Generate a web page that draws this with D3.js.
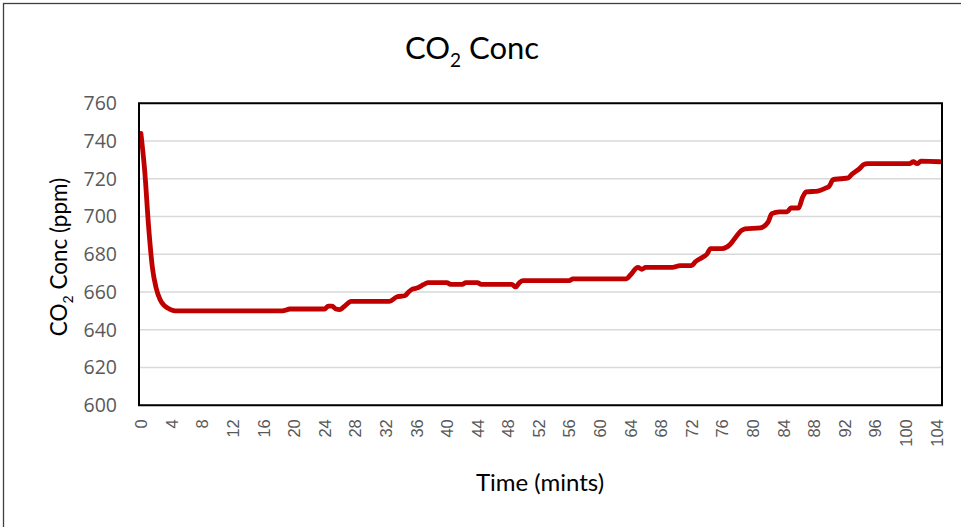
<!DOCTYPE html>
<html>
<head>
<meta charset="utf-8">
<script src="https://cdn.jsdelivr.net/npm/d3@7"></script>
<style>
  html, body { margin: 0; padding: 0; background: #fff; }
  svg { display: block; }
  text { font-family: Lato, "Open Sans", "Liberation Sans", sans-serif; }
</style>
</head>
<body>
<svg id="chart" width="961" height="527"></svg>
<script>
// Data: breakpoints (time in minutes, CO2 in ppm)
const times = [0, 0.5, 1, 1.5, 2, 2.5, 3, 3.5, 4, 4.5, 18.5, 19.5, 24, 24.5, 25, 25.5, 26, 26.5, 27.5, 32.5,
  33.5, 34.5, 35, 35.5, 36, 37, 37.5, 40, 40.5, 42, 42.5, 44, 44.5, 48.5, 49, 49.5, 50, 56, 56.5, 63.5,
  64, 65, 65.5, 66, 69.5, 70.5, 72, 72.5, 73.5, 74, 74.5, 76, 77, 77.5, 78.5, 79, 81, 82, 82.5, 83.5,
  84.5, 85, 86, 86.5, 87, 88.5, 89.5, 90, 90.5, 91.5, 92.5, 93, 94, 94.5, 95, 100.5, 101, 101.5, 102, 104.5];
const co2 = [744, 724, 695, 673, 662, 656, 653, 651.5, 650.5, 650, 650, 651, 651, 652.5, 652.5, 651, 650.7, 652, 655, 655,
  657.5, 658, 660, 661.5, 662, 664, 665, 665, 664, 664, 665, 665, 664, 664, 662.7, 665, 666, 666, 667, 667,
  669, 673, 672, 673, 673, 674, 674, 676, 678.5, 680, 683, 683, 685, 687.5, 692.5, 693.5, 694, 697, 701.5, 702.5,
  702.5, 704.5, 704.5, 710, 713, 713.5, 715, 716, 719.5, 720, 720.5, 722.5, 725.5, 727.5, 728, 728, 729, 728, 729.3, 729];
const xTicks = d3.range(0, 105, 4);
const yTicks = [600, 620, 640, 660, 680, 700, 720, 740, 760];

const svg = d3.select("#chart");
const L = 139, R = 942, T = 103.25, B = 405.25;

// chart area border
svg.append("rect").attr("x", 3.5).attr("y", 3.5).attr("width", 970).attr("height", 540)
  .attr("fill", "#fff").attr("stroke", "#404040").attr("stroke-width", 1.3);

const x = d3.scaleLinear().domain([-0.25, 104.75]).range([L, R]);
const y = d3.scaleLinear().domain([600, 760]).range([B, T]);

// gridlines
svg.append("g").selectAll("line").data(yTicks).join("line")
  .attr("x1", L).attr("x2", R).attr("y1", d => y(d)).attr("y2", d => y(d))
  .attr("stroke", "#d9d9d9").attr("stroke-width", 1.3);

// y axis labels
const yAxis = svg.append("g").attr("transform", `translate(${L},0)`)
  .call(d3.axisLeft(y).tickValues(yTicks).tickSize(0).tickPadding(22).tickFormat(d3.format("d")));
yAxis.select(".domain").remove();
yAxis.selectAll("text").attr("font-size", 19.5).attr("fill", "#595959")
  .style("font-family", "'Open Sans', sans-serif");

// x axis labels
const xAxis = svg.append("g").attr("transform", `translate(0,${B})`)
  .call(d3.axisBottom(x).tickValues(xTicks).tickSize(0).tickFormat(d3.format("d")));
xAxis.select(".domain").remove();
xAxis.selectAll("text")
  .attr("transform", "rotate(-90)")
  .attr("text-anchor", "end")
  .attr("x", -14).attr("y", 0).attr("dy", "0.35em")
  .attr("font-size", 16.5).attr("fill", "#595959")
  .style("font-family", "'Liberation Sans', Arial, sans-serif");

// line
svg.append("path").datum(co2)
  .attr("d", d3.line().x((d, i) => x(times[i])).y(d => y(d)).curve(d3.curveMonotoneX))
  .attr("fill", "none").attr("stroke", "#c00000").attr("stroke-width", 4.8)
  .attr("stroke-linejoin", "round").attr("stroke-linecap", "round");

// plot border
svg.append("rect").attr("x", L).attr("y", T).attr("width", R - L).attr("height", B - T)
  .attr("fill", "none").attr("stroke", "#000").attr("stroke-width", 2);

// title
const t = svg.append("text").attr("x", 472).attr("y", 59).attr("text-anchor", "middle")
  .attr("font-size", 31).attr("fill", "#000");
t.append("tspan").text("CO");
t.append("tspan").text("2").attr("font-size", 19).attr("dy", 8);
t.append("tspan").text(" Conc").attr("dy", -8);

// y axis title
const yt = svg.append("text").attr("transform", "translate(67,257) rotate(-90)")
  .attr("text-anchor", "middle").attr("font-size", 22.5).attr("fill", "#000");
yt.append("tspan").text("CO");
yt.append("tspan").text("2").attr("font-size", 14).attr("dy", 6);
yt.append("tspan").text(" Conc (ppm)").attr("dy", -6);

// x axis title
svg.append("text").attr("x", 540).attr("y", 491).attr("text-anchor", "middle")
  .attr("font-size", 24).attr("fill", "#000").text("Time (mints)");
</script>
</body>
</html>
